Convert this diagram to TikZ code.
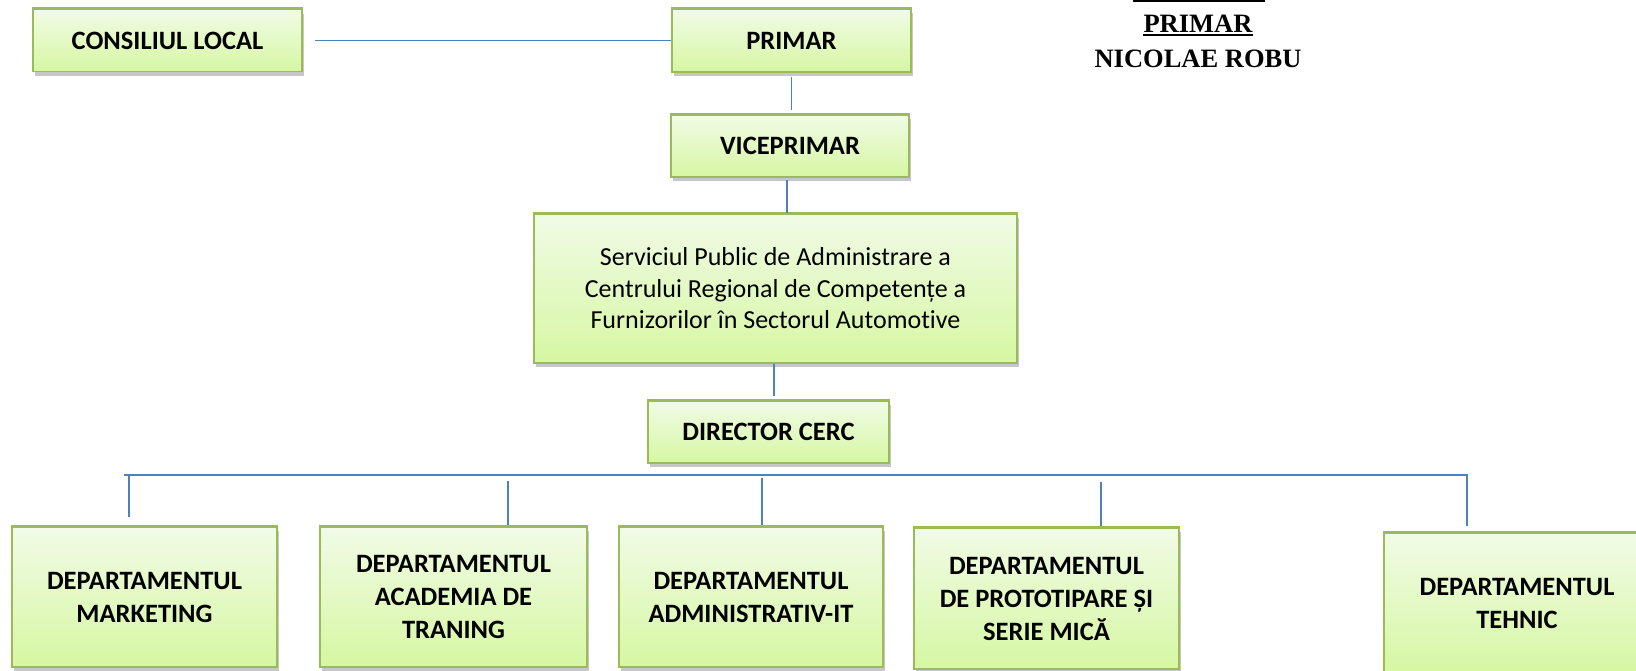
\documentclass[tikz,border=0pt]{standalone}
\usepackage{fontspec}
\setmainfont{Carlito}[Ligatures=NoCommon]
\newfontfamily\tnr{Liberation Serif}
\usetikzlibrary{shadows}
\definecolor{boxtop}{HTML}{F1FBE6}
\definecolor{boxbot}{HTML}{D6F7A2}
\definecolor{bordercol}{HTML}{9BBB59}
\definecolor{linecol}{HTML}{4F81BD}
\tikzset{
  box/.style={rectangle, draw=bordercol, line width=1.3pt, top color=boxtop, bottom color=boxbot,
    inner sep=0pt, align=center, text=black,
    font=\fontsize{26.5}{33}\selectfont\bfseries,
    drop shadow={shadow xshift=2pt, shadow yshift=-4pt, fill=black, opacity=0.22}},
  regtext/.style={font=\fontsize{26}{31.5}\selectfont\mdseries},
  conn/.style={draw=linecol, line width=1.9pt},
  toptext/.style={inner sep=0pt, anchor=base, font=\tnr\fontsize{26.5}{30}\selectfont\bfseries, text=black}
}
\begin{document}
\begin{tikzpicture}[x=1pt,y=-1pt]
\useasboundingbox (0,0) rectangle (1636,670);
% boxes
\node[box, minimum width=269pt, minimum height=62pt] (cl) at (167.5,40.5) {CONSILIUL LOCAL};
\node[box, minimum width=239pt, minimum height=63pt] (primar) at (791.5,40.5) {PRIMAR};
\node[box, minimum width=238pt, minimum height=62pt] (vice) at (790,146) {VICEPRIMAR};
\node[box, regtext, minimum width=483pt, minimum height=149pt] (serv) at (775.5,288.5)
  {Serviciul Public de Administrare a\\Centrului Regional de Competențe a\\Furnizorilor în Sectorul Automotive};
\node[box, minimum width=241pt, minimum height=62pt] (dir) at (768.5,432) {DIRECTOR CERC};
\node[box, minimum width=265pt, minimum height=140pt] (mkt) at (144.5,597) {DEPARTAMENTUL\\MARKETING};
\node[box, minimum width=267pt, minimum height=140pt] (acad) at (453.5,597) {DEPARTAMENTUL\\ACADEMIA DE\\TRANING};
\node[box, minimum width=264pt, minimum height=140pt] (admin) at (751,597) {DEPARTAMENTUL\\ADMINISTRATIV-IT};
\node[box, minimum width=265pt, minimum height=141pt] (proto) at (1046.5,598.5) {DEPARTAMENTUL\\DE PROTOTIPARE ȘI\\SERIE MICĂ};
\node[box, minimum width=266pt, minimum height=140pt] (tehnic) at (1517,603) {DEPARTAMENTUL\\TEHNIC};
\foreach \n in {cl,primar,vice,serv,dir,mkt,acad,admin,proto,tehnic}
  \draw[bordercol, line width=2.8pt] (\n.north west) -- (\n.north east);
% top right text
\node[toptext] (pt1) at (1198,32) {PRIMAR};
\node[toptext] (pt2) at (1198,67) {NICOLAE ROBU};
\draw[line width=2pt] ([yshift=-3pt]pt1.base west) -- ([yshift=-3pt]pt1.base east);
\draw[line width=4pt] (1133,0) -- (1265,0);
% connectors
\draw[conn] ([xshift=12pt]cl.east) -- (primar.west);
\draw[conn] ([yshift=-4pt]primar.south) -- ([yshift=4pt]primar.south |- vice.north);
\draw[conn] ([xshift=-3pt,yshift=-2pt]vice.south) -- ([xshift=-3pt]vice.south |- serv.north);
\draw[conn] ([xshift=-1.5pt]serv.south) -- ([xshift=-1.5pt,yshift=4pt]serv.south |- dir.north);
\coordinate (busL) at (124,475);
\coordinate (busR) at (1467,475);
\draw[conn] (busL) -- (busR) -- ([yshift=6pt]busR |- tehnic.north);
\coordinate (dm) at (129,475);
\coordinate (da) at (508,481);
\coordinate (dd) at (762,478);
\coordinate (dp) at (1101,482);
\draw[conn] (dm) -- ([yshift=9pt]dm |- mkt.north);
\draw[conn] (da) -- ([yshift=1pt]da |- acad.north);
\draw[conn] (dd) -- ([yshift=1pt]dd |- admin.north);
\draw[conn] (dp) -- ([yshift=1pt]dp |- proto.north);
\end{tikzpicture}
\end{document}
